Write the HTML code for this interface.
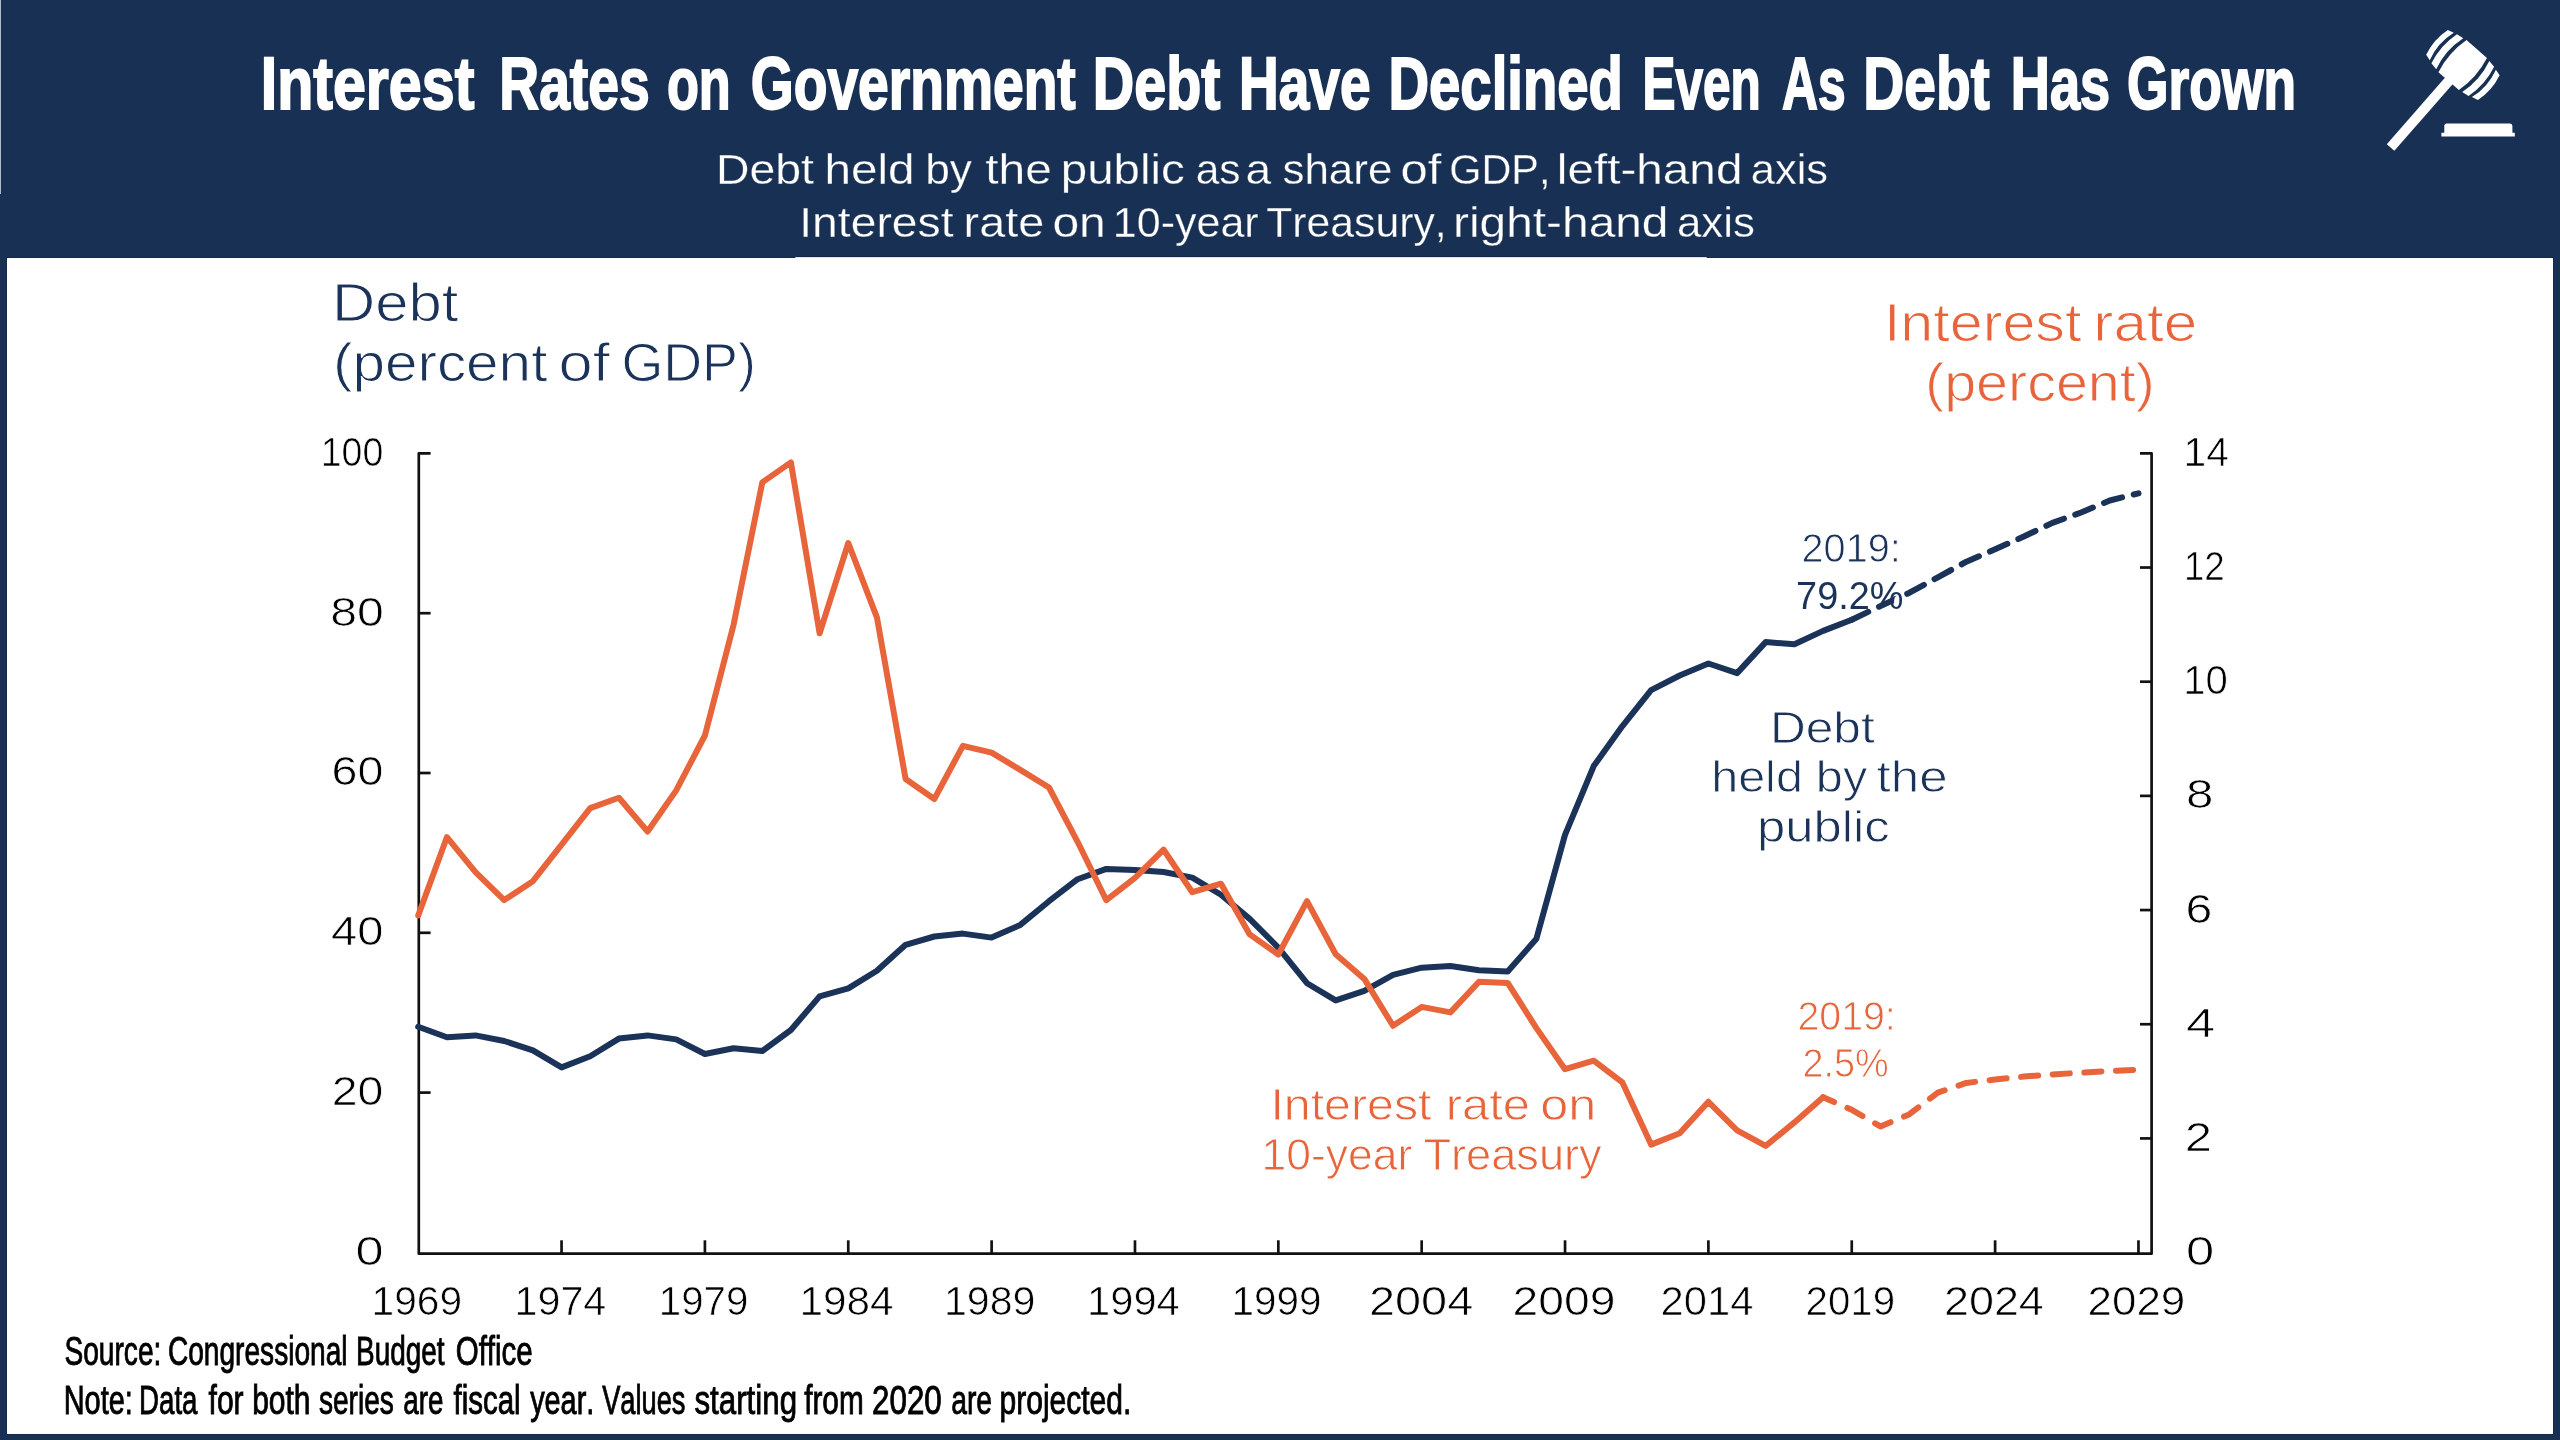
<!DOCTYPE html>
<html><head><meta charset="utf-8"><title>Interest Rates on Government Debt</title>
<style>
html,body{margin:0;padding:0;background:#183053;overflow:hidden;}
svg{display:block;will-change:transform;}
text{font-family:"Liberation Sans", sans-serif;font-kerning:none;}
</style></head>
<body>
<svg xmlns="http://www.w3.org/2000/svg" width="2560" height="1440" viewBox="0 0 2560 1440">
<rect x="0" y="0" width="2560" height="1440" fill="#183053"/>
<rect x="0" y="0" width="1" height="194" fill="#b0bccb"/>
<rect x="6.5" y="257.5" width="2547" height="1177" fill="#ffffff" stroke="#12294b" stroke-width="1"/>
<rect x="7" y="258" width="2546" height="1176" fill="#ffffff"/>
<rect x="795.3" y="256" width="911.4" height="1" fill="#12294b"/><rect x="795.3" y="257" width="911.4" height="1" fill="#dfe3e9"/>
<text x="260.71" y="109.20" font-size="75.00" fill="#ffffff" font-weight="bold" stroke="#ffffff" stroke-width="2.0" textLength="213.63" lengthAdjust="spacingAndGlyphs">Interest</text><text x="499.27" y="109.20" font-size="75.00" fill="#ffffff" font-weight="bold" stroke="#ffffff" stroke-width="2.0" textLength="150.40" lengthAdjust="spacingAndGlyphs">Rates</text><text x="666.91" y="109.20" font-size="75.00" fill="#ffffff" font-weight="bold" stroke="#ffffff" stroke-width="2.0" textLength="63.81" lengthAdjust="spacingAndGlyphs">on</text><text x="750.79" y="109.20" font-size="75.00" fill="#ffffff" font-weight="bold" stroke="#ffffff" stroke-width="2.0" textLength="324.91" lengthAdjust="spacingAndGlyphs">Government</text><text x="1092.82" y="109.20" font-size="75.00" fill="#ffffff" font-weight="bold" stroke="#ffffff" stroke-width="2.0" textLength="127.58" lengthAdjust="spacingAndGlyphs">Debt</text><text x="1238.99" y="109.20" font-size="75.00" fill="#ffffff" font-weight="bold" stroke="#ffffff" stroke-width="2.0" textLength="131.54" lengthAdjust="spacingAndGlyphs">Have</text><text x="1388.40" y="109.20" font-size="75.00" fill="#ffffff" font-weight="bold" stroke="#ffffff" stroke-width="2.0" textLength="234.59" lengthAdjust="spacingAndGlyphs">Declined</text><text x="1642.46" y="109.20" font-size="75.00" fill="#ffffff" font-weight="bold" stroke="#ffffff" stroke-width="2.0" textLength="118.22" lengthAdjust="spacingAndGlyphs">Even</text><text x="1782.06" y="109.20" font-size="75.00" fill="#ffffff" font-weight="bold" stroke="#ffffff" stroke-width="2.0" textLength="63.58" lengthAdjust="spacingAndGlyphs">As</text><text x="1863.26" y="109.20" font-size="75.00" fill="#ffffff" font-weight="bold" stroke="#ffffff" stroke-width="2.0" textLength="126.33" lengthAdjust="spacingAndGlyphs">Debt</text><text x="2010.85" y="109.20" font-size="75.00" fill="#ffffff" font-weight="bold" stroke="#ffffff" stroke-width="2.0" textLength="99.33" lengthAdjust="spacingAndGlyphs">Has</text><text x="2127.07" y="109.20" font-size="75.00" fill="#ffffff" font-weight="bold" stroke="#ffffff" stroke-width="2.0" textLength="168.92" lengthAdjust="spacingAndGlyphs">Grown</text>
<text x="716.02" y="183.55" font-size="42.43" fill="#ffffff" stroke="#183053" stroke-width="0.3" textLength="97.97" lengthAdjust="spacingAndGlyphs">Debt</text><text x="824.51" y="183.55" font-size="42.43" fill="#ffffff" stroke="#183053" stroke-width="0.3" textLength="90.15" lengthAdjust="spacingAndGlyphs">held</text><text x="925.17" y="183.55" font-size="42.43" fill="#ffffff" stroke="#183053" stroke-width="0.3" textLength="46.74" lengthAdjust="spacingAndGlyphs">by</text><text x="985.23" y="183.55" font-size="42.43" fill="#ffffff" stroke="#183053" stroke-width="0.3" textLength="66.56" lengthAdjust="spacingAndGlyphs">the</text><text x="1060.77" y="183.55" font-size="42.43" fill="#ffffff" stroke="#183053" stroke-width="0.3" textLength="123.90" lengthAdjust="spacingAndGlyphs">public</text><text x="1195.65" y="183.55" font-size="42.43" fill="#ffffff" stroke="#183053" stroke-width="0.3" textLength="44.84" lengthAdjust="spacingAndGlyphs">as</text><text x="1245.59" y="183.55" font-size="42.43" fill="#ffffff" stroke="#183053" stroke-width="0.3" textLength="25.59" lengthAdjust="spacingAndGlyphs">a</text><text x="1282.44" y="183.55" font-size="42.43" fill="#ffffff" stroke="#183053" stroke-width="0.3" textLength="109.94" lengthAdjust="spacingAndGlyphs">share</text><text x="1400.47" y="183.55" font-size="42.43" fill="#ffffff" stroke="#183053" stroke-width="0.3" textLength="40.83" lengthAdjust="spacingAndGlyphs">of</text><text x="1449.18" y="183.55" font-size="42.43" fill="#ffffff" stroke="#183053" stroke-width="0.3" textLength="101.30" lengthAdjust="spacingAndGlyphs">GDP,</text><text x="1556.83" y="183.55" font-size="42.43" fill="#ffffff" stroke="#183053" stroke-width="0.3" textLength="185.58" lengthAdjust="spacingAndGlyphs">left-hand</text><text x="1750.80" y="183.55" font-size="42.43" fill="#ffffff" stroke="#183053" stroke-width="0.3" textLength="77.31" lengthAdjust="spacingAndGlyphs">axis</text>
<text x="799.27" y="236.75" font-size="42.43" fill="#ffffff" stroke="#183053" stroke-width="0.3" textLength="154.33" lengthAdjust="spacingAndGlyphs">Interest</text><text x="963.61" y="236.75" font-size="42.43" fill="#ffffff" stroke="#183053" stroke-width="0.3" textLength="80.56" lengthAdjust="spacingAndGlyphs">rate</text><text x="1052.41" y="236.75" font-size="42.43" fill="#ffffff" stroke="#183053" stroke-width="0.3" textLength="53.35" lengthAdjust="spacingAndGlyphs">on</text><text x="1112.83" y="236.75" font-size="42.43" fill="#ffffff" stroke="#183053" stroke-width="0.3" textLength="145.80" lengthAdjust="spacingAndGlyphs">10-year</text><text x="1266.29" y="236.75" font-size="42.43" fill="#ffffff" stroke="#183053" stroke-width="0.3" textLength="180.34" lengthAdjust="spacingAndGlyphs">Treasury,</text><text x="1453.04" y="236.75" font-size="42.43" fill="#ffffff" stroke="#183053" stroke-width="0.3" textLength="215.43" lengthAdjust="spacingAndGlyphs">right-hand</text><text x="1676.99" y="236.75" font-size="42.43" fill="#ffffff" stroke="#183053" stroke-width="0.3" textLength="77.93" lengthAdjust="spacingAndGlyphs">axis</text>
<g transform="translate(2462.7,65.1) rotate(41.2)" fill="#ffffff"><path d="M -13.6,-21.3 L 13.6,-21.3 A 90 90 0 0 1 13.6,21.3 L -13.6,21.3 A 90 90 0 0 1 -13.6,-21.3 Z"/><path d="M -17.3,-20.6 L -24.7,-19.5 A 75 75 0 0 0 -24.7,19.3 L -17.3,20.5 A 75 75 0 0 1 -17.3,-20.6 Z"/><path d="M -28.0,-18.4 L -34.4,-16.7 A 62 62 0 0 0 -34.4,16.2 L -28.0,18 A 62 62 0 0 1 -28.0,-18.4 Z"/><path d="M 17.3,-20.6 L 24.7,-19.5 A 75 75 0 0 1 24.7,19.3 L 17.3,20.5 A 75 75 0 0 0 17.3,-20.6 Z"/><path d="M 28.0,-18.4 L 34.4,-16.7 A 62 62 0 0 1 34.4,16.2 L 28.0,18 A 62 62 0 0 0 28.0,-18.4 Z"/><rect x="-5" y="20" width="10" height="89.5"/></g>
<path d="M 2446.8,123.5 L 2510,123.5 Q 2512.4,123.5 2512.4,126 L 2512.4,132.7 L 2514.8,132.7 L 2514.8,136.6 L 2441.4,136.6 L 2441.4,132.7 L 2444.3,132.7 L 2444.3,126 Q 2444.3,123.5 2446.8,123.5 Z" fill="#ffffff"/>
<text x="331.96" y="321.20" font-size="53.45" fill="#1b3358" stroke="#ffffff" stroke-width="1.0" textLength="126.48" lengthAdjust="spacingAndGlyphs">Debt</text>
<text x="332.95" y="381.00" font-size="53.45" fill="#1b3358" stroke="#ffffff" stroke-width="1.0" textLength="214.45" lengthAdjust="spacingAndGlyphs">(percent</text><text x="558.59" y="381.00" font-size="53.45" fill="#1b3358" stroke="#ffffff" stroke-width="1.0" textLength="51.15" lengthAdjust="spacingAndGlyphs">of</text><text x="621.41" y="381.00" font-size="53.45" fill="#1b3358" stroke="#ffffff" stroke-width="1.0" textLength="134.52" lengthAdjust="spacingAndGlyphs">GDP)</text>
<text x="1883.92" y="340.70" font-size="53.45" fill="#e8643a" stroke="#ffffff" stroke-width="1.0" textLength="197.53" lengthAdjust="spacingAndGlyphs">Interest</text><text x="2093.38" y="340.70" font-size="53.45" fill="#e8643a" stroke="#ffffff" stroke-width="1.0" textLength="103.82" lengthAdjust="spacingAndGlyphs">rate</text>
<text x="1925.01" y="400.70" font-size="53.45" fill="#e8643a" stroke="#ffffff" stroke-width="1.0" textLength="229.93" lengthAdjust="spacingAndGlyphs">(percent)</text>
<path d="M 430.6,453.40 L 418.8,453.40 L 418.8,1253.7 L 2151.6,1253.7 L 2151.6,453.34 L 2140,453.34" fill="none" stroke="#111" stroke-width="2.7" stroke-linejoin="round"/>
<line x1="418.8" y1="1092.60" x2="430.6" y2="1092.60" stroke="#111" stroke-width="2.7"/>
<line x1="418.8" y1="932.80" x2="430.6" y2="932.80" stroke="#111" stroke-width="2.7"/>
<line x1="418.8" y1="773.00" x2="430.6" y2="773.00" stroke="#111" stroke-width="2.7"/>
<line x1="418.8" y1="613.20" x2="430.6" y2="613.20" stroke="#111" stroke-width="2.7"/>
<line x1="2140" y1="1138.42" x2="2151.6" y2="1138.42" stroke="#111" stroke-width="2.7"/>
<line x1="2140" y1="1024.24" x2="2151.6" y2="1024.24" stroke="#111" stroke-width="2.7"/>
<line x1="2140" y1="910.06" x2="2151.6" y2="910.06" stroke="#111" stroke-width="2.7"/>
<line x1="2140" y1="795.88" x2="2151.6" y2="795.88" stroke="#111" stroke-width="2.7"/>
<line x1="2140" y1="681.70" x2="2151.6" y2="681.70" stroke="#111" stroke-width="2.7"/>
<line x1="2140" y1="567.52" x2="2151.6" y2="567.52" stroke="#111" stroke-width="2.7"/>
<line x1="561.55" y1="1240.3" x2="561.55" y2="1253.7" stroke="#111" stroke-width="2.7"/>
<line x1="704.91" y1="1240.3" x2="704.91" y2="1253.7" stroke="#111" stroke-width="2.7"/>
<line x1="848.26" y1="1240.3" x2="848.26" y2="1253.7" stroke="#111" stroke-width="2.7"/>
<line x1="991.62" y1="1240.3" x2="991.62" y2="1253.7" stroke="#111" stroke-width="2.7"/>
<line x1="1134.97" y1="1240.3" x2="1134.97" y2="1253.7" stroke="#111" stroke-width="2.7"/>
<line x1="1278.33" y1="1240.3" x2="1278.33" y2="1253.7" stroke="#111" stroke-width="2.7"/>
<line x1="1421.68" y1="1240.3" x2="1421.68" y2="1253.7" stroke="#111" stroke-width="2.7"/>
<line x1="1565.04" y1="1240.3" x2="1565.04" y2="1253.7" stroke="#111" stroke-width="2.7"/>
<line x1="1708.39" y1="1240.3" x2="1708.39" y2="1253.7" stroke="#111" stroke-width="2.7"/>
<line x1="1851.75" y1="1240.3" x2="1851.75" y2="1253.7" stroke="#111" stroke-width="2.7"/>
<line x1="1995.11" y1="1240.3" x2="1995.11" y2="1253.7" stroke="#111" stroke-width="2.7"/>
<line x1="2138.46" y1="1240.3" x2="2138.46" y2="1253.7" stroke="#111" stroke-width="2.7"/>
<text x="320.74" y="465.85" font-size="40.01" fill="#000" stroke="#ffffff" stroke-width="0.7" textLength="62.56" lengthAdjust="spacingAndGlyphs">100</text>
<text x="330.20" y="625.65" font-size="40.01" fill="#000" stroke="#ffffff" stroke-width="0.7" textLength="53.57" lengthAdjust="spacingAndGlyphs">80</text>
<text x="331.52" y="785.45" font-size="40.01" fill="#000" stroke="#ffffff" stroke-width="0.7" textLength="51.89" lengthAdjust="spacingAndGlyphs">60</text>
<text x="330.99" y="945.25" font-size="40.01" fill="#000" stroke="#ffffff" stroke-width="0.7" textLength="52.44" lengthAdjust="spacingAndGlyphs">40</text>
<text x="331.73" y="1105.05" font-size="40.01" fill="#000" stroke="#ffffff" stroke-width="0.7" textLength="51.67" lengthAdjust="spacingAndGlyphs">20</text>
<text x="355.43" y="1264.85" font-size="40.01" fill="#000" stroke="#ffffff" stroke-width="0.7" textLength="28.07" lengthAdjust="spacingAndGlyphs">0</text>
<text x="2183.59" y="465.75" font-size="40.01" fill="#000" stroke="#ffffff" stroke-width="0.7" textLength="45.38" lengthAdjust="spacingAndGlyphs">14</text>
<text x="2183.89" y="579.95" font-size="40.01" fill="#000" stroke="#ffffff" stroke-width="0.7" textLength="40.88" lengthAdjust="spacingAndGlyphs">12</text>
<text x="2183.24" y="694.15" font-size="40.01" fill="#000" stroke="#ffffff" stroke-width="0.7" textLength="44.61" lengthAdjust="spacingAndGlyphs">10</text>
<text x="2185.95" y="808.35" font-size="40.01" fill="#000" stroke="#ffffff" stroke-width="0.7" textLength="27.45" lengthAdjust="spacingAndGlyphs">8</text>
<text x="2185.64" y="922.55" font-size="40.01" fill="#000" stroke="#ffffff" stroke-width="0.7" textLength="26.82" lengthAdjust="spacingAndGlyphs">6</text>
<text x="2185.96" y="1036.65" font-size="40.01" fill="#000" stroke="#ffffff" stroke-width="0.7" textLength="29.30" lengthAdjust="spacingAndGlyphs">4</text>
<text x="2184.70" y="1150.85" font-size="40.01" fill="#000" stroke="#ffffff" stroke-width="0.7" textLength="27.26" lengthAdjust="spacingAndGlyphs">2</text>
<text x="2186.02" y="1265.05" font-size="40.01" fill="#000" stroke="#ffffff" stroke-width="0.7" textLength="28.19" lengthAdjust="spacingAndGlyphs">0</text>
<text x="371.60" y="1314.95" font-size="40.01" fill="#000" stroke="#ffffff" stroke-width="0.7" textLength="90.47" lengthAdjust="spacingAndGlyphs">1969</text>
<text x="514.56" y="1314.95" font-size="40.01" fill="#000" stroke="#ffffff" stroke-width="0.7" textLength="91.72" lengthAdjust="spacingAndGlyphs">1974</text>
<text x="658.83" y="1314.95" font-size="40.01" fill="#000" stroke="#ffffff" stroke-width="0.7" textLength="89.52" lengthAdjust="spacingAndGlyphs">1979</text>
<text x="799.48" y="1314.95" font-size="40.01" fill="#000" stroke="#ffffff" stroke-width="0.7" textLength="94.02" lengthAdjust="spacingAndGlyphs">1984</text>
<text x="943.96" y="1314.95" font-size="40.01" fill="#000" stroke="#ffffff" stroke-width="0.7" textLength="91.53" lengthAdjust="spacingAndGlyphs">1989</text>
<text x="1087.13" y="1314.95" font-size="40.01" fill="#000" stroke="#ffffff" stroke-width="0.7" textLength="92.56" lengthAdjust="spacingAndGlyphs">1994</text>
<text x="1231.62" y="1314.95" font-size="40.01" fill="#000" stroke="#ffffff" stroke-width="0.7" textLength="89.83" lengthAdjust="spacingAndGlyphs">1999</text>
<text x="1369.01" y="1314.95" font-size="40.01" fill="#000" stroke="#ffffff" stroke-width="0.7" textLength="104.23" lengthAdjust="spacingAndGlyphs">2004</text>
<text x="1512.64" y="1314.95" font-size="40.01" fill="#000" stroke="#ffffff" stroke-width="0.7" textLength="102.79" lengthAdjust="spacingAndGlyphs">2009</text>
<text x="1660.56" y="1314.95" font-size="40.01" fill="#000" stroke="#ffffff" stroke-width="0.7" textLength="92.82" lengthAdjust="spacingAndGlyphs">2014</text>
<text x="1805.54" y="1314.95" font-size="40.01" fill="#000" stroke="#ffffff" stroke-width="0.7" textLength="89.51" lengthAdjust="spacingAndGlyphs">2019</text>
<text x="1943.90" y="1314.95" font-size="40.01" fill="#000" stroke="#ffffff" stroke-width="0.7" textLength="99.98" lengthAdjust="spacingAndGlyphs">2024</text>
<text x="2087.55" y="1314.95" font-size="40.01" fill="#000" stroke="#ffffff" stroke-width="0.7" textLength="97.77" lengthAdjust="spacingAndGlyphs">2029</text>
<polyline points="418.2,1026.8 446.9,1037.2 475.5,1035.4 504.2,1041.0 532.9,1050.4 561.6,1067.4 590.2,1056.2 618.9,1038.6 647.6,1035.4 676.2,1039.4 704.9,1054.0 733.6,1048.2 762.3,1051.0 790.9,1030.0 819.6,996.4 848.3,988.4 876.9,970.8 905.6,944.8 934.3,936.5 962.9,933.6 991.6,937.6 1020.3,924.9 1049.0,901.2 1077.6,879.2 1106.3,868.9 1135.0,869.9 1163.6,872.0 1192.3,877.6 1221.0,894.8 1249.7,918.9 1278.3,947.6 1307.0,983.2 1335.7,1000.4 1364.3,990.8 1393.0,974.8 1421.7,967.7 1450.4,966.0 1479.0,970.2 1507.7,971.6 1536.4,938.8 1565.0,834.9 1593.7,766.1 1622.4,726.1 1651.1,690.1 1679.7,675.5 1708.4,663.5 1737.1,673.1 1765.7,642.1 1794.4,644.3 1823.1,630.9 1851.8,619.7" fill="none" stroke="#1b3358" stroke-width="6.0" stroke-linejoin="round" stroke-linecap="round"/>
<polyline points="1851.8,619.7 1880.4,606.1 1909.1,592.9 1937.8,577.3 1966.4,561.7 1995.1,549.3 2023.8,536.5 2052.4,522.9 2081.1,512.5 2109.8,500.5 2138.5,493.3" fill="none" stroke="#1b3358" stroke-width="6.0" stroke-linejoin="round" stroke-linecap="round" stroke-dasharray="19 12" stroke-dashoffset="0.84"/>
<polyline points="418.2,915.5 446.9,837.2 475.5,872.1 504.2,900.1 532.9,881.2 561.6,844.7 590.2,808.1 618.9,797.8 647.6,831.5 676.2,790.4 704.9,735.5 733.6,624.7 762.3,482.4 790.9,462.4 819.6,633.3 848.3,543.0 876.9,617.3 905.6,779.0 934.3,799.0 962.9,745.8 991.6,752.7 1020.3,769.8 1049.0,787.5 1077.6,841.8 1106.3,900.2 1135.0,877.8 1163.6,849.7 1192.3,892.2 1221.0,883.7 1249.7,934.4 1278.3,954.5 1307.0,901.1 1335.7,954.2 1364.3,978.9 1393.0,1025.8 1421.7,1006.9 1450.4,1012.4 1479.0,981.8 1507.7,982.9 1536.4,1028.1 1565.0,1069.2 1593.7,1060.7 1622.4,1082.4 1651.1,1144.6 1679.7,1133.2 1708.4,1101.8 1737.1,1130.4 1765.7,1145.8 1794.4,1122.4 1823.1,1097.2" fill="none" stroke="#e8643a" stroke-width="6.0" stroke-linejoin="round" stroke-linecap="round"/>
<polyline points="1823.1,1097.2 1851.8,1109.8 1880.4,1126.4 1909.1,1114.4 1937.8,1092.6 1966.4,1082.9 1995.1,1079.5 2023.8,1076.6 2052.4,1074.4 2081.1,1072.7 2109.8,1070.9 2138.5,1069.8" fill="none" stroke="#e8643a" stroke-width="6.0" stroke-linejoin="round" stroke-linecap="round" stroke-dasharray="17.1 14.6" stroke-dashoffset="5.1"/>
<text x="1801.62" y="562.10" font-size="40.66" fill="#1b3358" stroke="#ffffff" stroke-width="0.8" textLength="99.04" lengthAdjust="spacingAndGlyphs">2019:</text>
<ellipse cx="1897.3" cy="601.2" rx="3.2" ry="5.6" fill="#ffffff"/>
<text x="1796.11" y="608.50" font-size="39.50" fill="#1b3358" textLength="107.34" lengthAdjust="spacingAndGlyphs">79.2%</text>
<text x="1769.91" y="742.60" font-size="43.66" fill="#1b3358" stroke="#ffffff" stroke-width="0.8" textLength="104.76" lengthAdjust="spacingAndGlyphs">Debt</text>
<text x="1711.21" y="792.40" font-size="43.66" fill="#1b3358" stroke="#ffffff" stroke-width="0.8" textLength="91.66" lengthAdjust="spacingAndGlyphs">held</text><text x="1815.83" y="792.40" font-size="43.66" fill="#1b3358" stroke="#ffffff" stroke-width="0.8" textLength="51.44" lengthAdjust="spacingAndGlyphs">by</text><text x="1876.63" y="792.40" font-size="43.66" fill="#1b3358" stroke="#ffffff" stroke-width="0.8" textLength="70.94" lengthAdjust="spacingAndGlyphs">the</text>
<text x="1756.90" y="842.10" font-size="43.66" fill="#1b3358" stroke="#ffffff" stroke-width="0.8" textLength="132.72" lengthAdjust="spacingAndGlyphs">public</text>
<text x="1797.44" y="1029.60" font-size="40.66" fill="#e8643a" stroke="#ffffff" stroke-width="0.8" textLength="98.30" lengthAdjust="spacingAndGlyphs">2019:</text>
<text x="1802.41" y="1076.90" font-size="40.66" fill="#e8643a" stroke="#ffffff" stroke-width="0.8" textLength="86.29" lengthAdjust="spacingAndGlyphs">2.5%</text>
<text x="1270.43" y="1120.20" font-size="43.66" fill="#e8643a" stroke="#ffffff" stroke-width="0.8" textLength="161.03" lengthAdjust="spacingAndGlyphs">Interest</text><text x="1445.82" y="1120.20" font-size="43.66" fill="#e8643a" stroke="#ffffff" stroke-width="0.8" textLength="84.19" lengthAdjust="spacingAndGlyphs">rate</text><text x="1540.16" y="1120.20" font-size="43.66" fill="#e8643a" stroke="#ffffff" stroke-width="0.8" textLength="56.00" lengthAdjust="spacingAndGlyphs">on</text>
<text x="1261.46" y="1170.10" font-size="43.66" fill="#e8643a" stroke="#ffffff" stroke-width="0.8" textLength="150.83" lengthAdjust="spacingAndGlyphs">10-year</text><text x="1423.48" y="1170.10" font-size="43.66" fill="#e8643a" stroke="#ffffff" stroke-width="0.8" textLength="178.25" lengthAdjust="spacingAndGlyphs">Treasury</text>
<text x="64.49" y="1365.05" font-size="39.80" fill="#000" stroke="#000" stroke-width="0.9" textLength="96.83" lengthAdjust="spacingAndGlyphs">Source:</text><text x="167.95" y="1365.05" font-size="39.80" fill="#000" stroke="#000" stroke-width="0.9" textLength="179.61" lengthAdjust="spacingAndGlyphs">Congressional</text><text x="356.04" y="1365.05" font-size="39.80" fill="#000" stroke="#000" stroke-width="0.9" textLength="88.60" lengthAdjust="spacingAndGlyphs">Budget</text><text x="455.75" y="1365.05" font-size="39.80" fill="#000" stroke="#000" stroke-width="0.9" textLength="77.01" lengthAdjust="spacingAndGlyphs">Office</text>
<text x="63.77" y="1414.35" font-size="39.80" fill="#000" stroke="#000" stroke-width="0.9" textLength="68.99" lengthAdjust="spacingAndGlyphs">Note:</text><text x="139.07" y="1414.35" font-size="39.80" fill="#000" stroke="#000" stroke-width="0.9" textLength="58.38" lengthAdjust="spacingAndGlyphs">Data</text><text x="208.60" y="1414.35" font-size="39.80" fill="#000" stroke="#000" stroke-width="0.9" textLength="34.99" lengthAdjust="spacingAndGlyphs">for</text><text x="252.20" y="1414.35" font-size="39.80" fill="#000" stroke="#000" stroke-width="0.9" textLength="58.36" lengthAdjust="spacingAndGlyphs">both</text><text x="318.88" y="1414.35" font-size="39.80" fill="#000" stroke="#000" stroke-width="0.9" textLength="74.96" lengthAdjust="spacingAndGlyphs">series</text><text x="403.37" y="1414.35" font-size="39.80" fill="#000" stroke="#000" stroke-width="0.9" textLength="40.17" lengthAdjust="spacingAndGlyphs">are</text><text x="453.51" y="1414.35" font-size="39.80" fill="#000" stroke="#000" stroke-width="0.9" textLength="67.05" lengthAdjust="spacingAndGlyphs">fiscal</text><text x="530.18" y="1414.35" font-size="39.80" fill="#000" stroke="#000" stroke-width="0.9" textLength="64.09" lengthAdjust="spacingAndGlyphs">year.</text><text x="602.21" y="1414.35" font-size="39.80" fill="#000" stroke="#000" stroke-width="0.9" textLength="83.29" lengthAdjust="spacingAndGlyphs">Values</text><text x="694.49" y="1414.35" font-size="39.80" fill="#000" stroke="#000" stroke-width="0.9" textLength="102.57" lengthAdjust="spacingAndGlyphs">starting</text><text x="804.20" y="1414.35" font-size="39.80" fill="#000" stroke="#000" stroke-width="0.9" textLength="59.48" lengthAdjust="spacingAndGlyphs">from</text><text x="872.08" y="1414.35" font-size="39.80" fill="#000" stroke="#000" stroke-width="0.9" textLength="69.71" lengthAdjust="spacingAndGlyphs">2020</text><text x="951.15" y="1414.35" font-size="39.80" fill="#000" stroke="#000" stroke-width="0.9" textLength="40.92" lengthAdjust="spacingAndGlyphs">are</text><text x="999.60" y="1414.35" font-size="39.80" fill="#000" stroke="#000" stroke-width="0.9" textLength="131.73" lengthAdjust="spacingAndGlyphs">projected.</text>
</svg>
</body></html>
